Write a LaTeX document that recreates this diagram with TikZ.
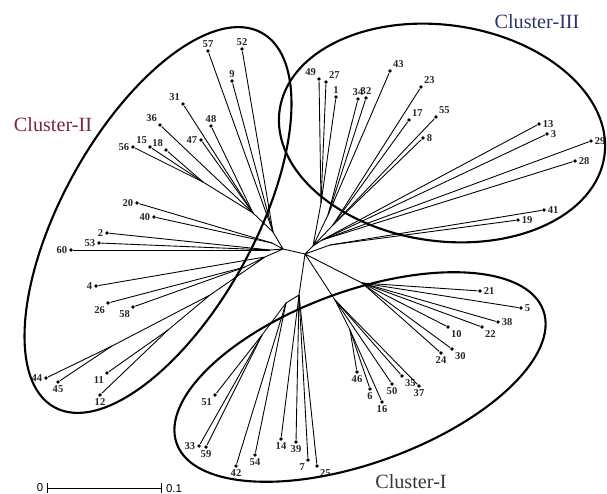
\documentclass[tikz,border=0pt]{standalone}
\usepackage{fontspec}
\setmainfont{Liberation Serif}
\setsansfont{Liberation Sans}
\usetikzlibrary{arrows}
\definecolor{clusterone}{RGB}{55,55,55}
\definecolor{clustertwo}{RGB}{120,40,60}
\definecolor{clusterthree}{RGB}{40,55,105}
\tikzstyle{leaf} = [circle, fill=black, inner sep=0pt, minimum size=2.2pt]
\tikzstyle{lbl} = [font=\fontsize{6}{7}\selectfont\bfseries, inner sep=0.6pt, text=black!85]
\tikzstyle{ring} = [line width=1.2pt]
\tikzstyle{cname} = [font=\fontsize{11.5}{13}\selectfont]

\begin{document}
\begin{tikzpicture}[x=0.02cm,y=-0.02cm,line width=0.5pt,
                    every label/.style={lbl},label distance=0pt]
  \useasboundingbox (0,0) rectangle (607,493);

  % inner nodes of the tree
  \coordinate (C)  at (305,254);
  \coordinate (L)  at (283,249);
  \coordinate (a1) at (273,232);
  \coordinate (a2) at (253,213);
  \coordinate (s1) at (203,182);
  \coordinate (b1) at (272,243);
  \coordinate (d1) at (270,250);
  \coordinate (e1) at (265,257);
  \coordinate (g1) at (245,267);
  \coordinate (e2) at (210,295);
  \coordinate (e3) at (112,346);
  \coordinate (e4) at (168,330);
  \coordinate (N3) at (313,246);
  \coordinate (t1) at (321,203);
  \coordinate (t2) at (328,215);
  \coordinate (t3) at (333,225);
  \coordinate (r1) at (322,240);
  \coordinate (r2) at (330,245);
  \coordinate (m1) at (362,283);
  \coordinate (k1) at (335,300);
  \coordinate (k2) at (350,330);
  \coordinate (p1) at (299,295);
  \coordinate (p2) at (286,303);
  \coordinate (p3) at (262,335);

  % Cluster-II
  \node[leaf,label=above:57]       (n57) at (208,51)  {};
  \node[leaf,label=above:52]       (n52) at (242,49)  {};
  \node[leaf,label=above:9]        (n9)  at (232,81)  {};
  \node[leaf,label=above left:31]  (n31) at (183,104) {};
  \node[leaf,label=above:48]       (n48) at (211,126) {};
  \node[leaf,label=above left:36]  (n36) at (160,125) {};
  \node[leaf,label=left:47]        (n47) at (201,140) {};
  \node[leaf,label=left:56]        (n56) at (133,147) {};
  \node[leaf,label=above left:15]  (n15) at (150,147) {};
  \node[leaf,label=above left:18]  (n18) at (166,150) {};
  \node[leaf,label=left:20]        (n20) at (137,203) {};
  \node[leaf,label=left:40]        (n40) at (154,217) {};
  \node[leaf,label=left:2]         (n2)  at (107,233) {};
  \node[leaf,label=left:53]        (n53) at (99,243)  {};
  \node[leaf,label=left:60]        (n60) at (71,250)  {};
  \node[leaf,label=left:4]         (n4)  at (96,286)  {};
  \node[leaf,label=below left:26]  (n26) at (108,303) {};
  \node[leaf,label=below left:58]  (n58) at (133,307) {};
  \node[leaf,label=left:44]        (n44) at (46,378)  {};
  \node[leaf,label=below:45]       (n45) at (58,382)  {};
  \node[leaf,label=below left:11]  (n11) at (107,373) {};
  \node[leaf,label=below:12]       (n12) at (100,395) {};

  % Cluster-I
  \node[leaf,label=below left:51]  (n51) at (215,395) {};
  \node[leaf,label=left:33]        (n33) at (199,446) {};
  \node[leaf,label=below:59]       (n59) at (206,447) {};
  \node[leaf,label=below:42]       (n42) at (236,466) {};
  \node[leaf,label=below:54]       (n54) at (255,455) {};
  \node[leaf,label=below:14]       (n14) at (281,439) {};
  \node[leaf,label=below:39]       (n39) at (296,442) {};
  \node[leaf,label=below left:7]   (n7)  at (308,460) {};
  \node[leaf,label=below right:25] (n25) at (317,466) {};
  \node[leaf,label=right:21]       (n21) at (480,291) {};
  \node[leaf,label=right:5]        (n5)  at (521,308) {};
  \node[leaf,label=right:38]       (n38) at (498,322) {};
  \node[leaf,label=below right:22] (n22) at (482,327) {};
  \node[leaf,label=below right:10] (n10) at (448,327) {};
  \node[leaf,label=below right:30] (n30) at (452,349) {};
  \node[leaf,label=below:24]       (n24) at (441,353) {};
  \node[leaf,label=below:46]       (n46) at (357,372) {};
  \node[leaf,label=below:6]        (n6)  at (370,389) {};
  \node[leaf,label=below:16]       (n16) at (382,402) {};
  \node[leaf,label=below:50]       (n50) at (392,384) {};
  \node[leaf,label=below right:35] (n35) at (402,376) {};
  \node[leaf,label=below:37]       (n37) at (419,386) {};

  % Cluster-III
  \node[leaf,label=above left:49]  (n49) at (319,79)  {};
  \node[leaf,label=above right:27] (n27) at (326,82)  {};
  \node[leaf,label=above:1]        (n1)  at (336,97)  {};
  \node[leaf,label=above:34]       (n34) at (358,99)  {};
  \node[leaf,label=above:32]       (n32) at (366,98)  {};
  \node[leaf,label=above right:43] (n43) at (390,71)  {};
  \node[leaf,label=above right:23] (n23) at (421,87)  {};
  \node[leaf,label=above right:17] (n17) at (409,120) {};
  \node[leaf,label=above right:55] (n55) at (436,117) {};
  \node[leaf,label=right:8]        (n8)  at (423,138) {};
  \node[leaf,label=right:13]       (n13) at (539,124) {};
  \node[leaf,label=right:3]        (n3)  at (547,134) {};
  \node[leaf,label=right:29]       (n29) at (591,141) {};
  \node[leaf,label=right:28]       (n28) at (575,161) {};
  \node[leaf,label=right:41]       (n41) at (544,210) {};
  \node[leaf,label=right:19]       (n19) at (518,220) {};

  % branches
  \draw (C) -- (L)  (C) -- (N3)  (C) -- (r2)  (C) -- (m1)  (C) -- (k1)  (C) -- (p1);
  \draw (L) -- (a1)  (L) -- (b1)  (L) -- (d1)  (L) -- (e1);
  \foreach \n in {57,52,9} \draw (a1) -- (n\n);
  \draw (a1) -- (a2);
  \foreach \n in {31,48,47,36} \draw (a2) -- (n\n);
  \draw (a2) -- (s1);
  \foreach \n in {56,15,18} \draw (s1) -- (n\n);
  \foreach \n in {20,40} \draw (b1) -- (n\n);
  \foreach \n in {2,53,60} \draw (d1) -- (n\n);
  \draw (e1) -- (n4)  (e1) -- (g1)  (e1) -- (e2);
  \foreach \n in {26,58} \draw (g1) -- (n\n);
  \draw (e2) -- (e3)  (e2) -- (e4);
  \foreach \n in {44,45} \draw (e3) -- (n\n);
  \foreach \n in {11,12} \draw (e4) -- (n\n);

  \draw (N3) -- (t1)  (N3) -- (t2)  (N3) -- (t3)  (N3) -- (r1);
  \foreach \n in {49,27,1} \draw (t1) -- (n\n);
  \foreach \n in {34,32,43} \draw (t2) -- (n\n);
  \foreach \n in {23,17,55,8} \draw (t3) -- (n\n);
  \foreach \n in {13,3,29,28} \draw (r1) -- (n\n);
  \foreach \n in {41,19} \draw (r2) -- (n\n);

  \foreach \n in {21,5,38,22,10,30,24} \draw (m1) -- (n\n);
  \draw (k1) -- (k2);
  \foreach \n in {50,35,37} \draw (k1) -- (n\n);
  \foreach \n in {46,6,16} \draw (k2) -- (n\n);
  \draw (p1) -- (p2)  (p2) -- (p3);
  \foreach \n in {7,25,14,39} \draw (p1) -- (n\n);
  \foreach \n in {42,54} \draw (p2) -- (n\n);
  \foreach \n in {51,33,59} \draw (p3) -- (n\n);

  % cluster rings
  \draw[ring,rotate around={61:(158,220)}]  (158,220) ellipse [x radius=214, y radius=96];
  \draw[ring,rotate around={-8:(442,133)}]  (442,133) ellipse [x radius=164, y radius=108];
  \draw[ring,rotate around={20:(360,377)}]  (360,377) ellipse [x radius=195, y radius=86];

  \node[cname,text=clustertwo]   (c2) at (53,125)  {Cluster-II};
  \node[cname,text=clusterthree] (c3) at (537,22)  {Cluster-III};
  \node[cname,text=clusterone]   (c1) at (411,482) {Cluster-I};

  % scale bar
  \node[font=\sffamily\fontsize{6.5}{7}\selectfont,inner sep=1pt] (z0) at (40,488) {0};
  \node[font=\sffamily\fontsize{6.5}{7}\selectfont,inner sep=1pt] (z1) at (174,489) {0.1};
  \coordinate (b0) at (47,488);
  \coordinate (b1) at (162,488);
  \draw[|-|,line width=0.5pt] (b0) -- (b1);
\end{tikzpicture}
\end{document}
